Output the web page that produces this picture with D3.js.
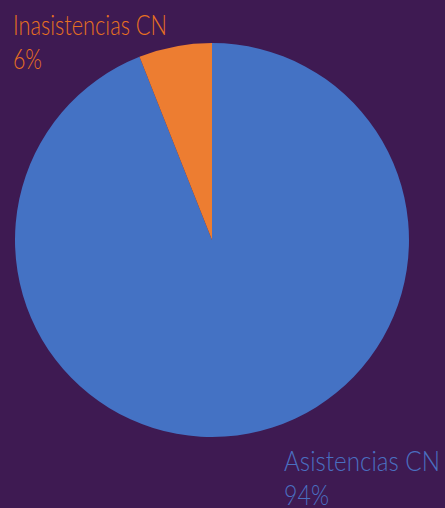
<!DOCTYPE html>
<html><head><meta charset="utf-8">
<script src="https://cdn.jsdelivr.net/npm/d3@7"></script>
<style>html,body{margin:0;padding:0;background:#3e1a52;}svg{display:block;}</style>
</head><body>
<script>
const categories = ["Asistencias CN", "Inasistencias CN"];
const values = [94, 6];
const pctLabels = ["94%", "6%"];
const colors = ["#4472C4", "#ED7D31"];
const textColors = ["#4a6fc0", "#e8711f"];

const W = 445, H = 508;
const svg = d3.select("body").append("svg").attr("width", W).attr("height", H);
svg.append("rect").attr("width", W).attr("height", H).attr("fill", "#3e1a52");

const cx = 212, cy = 240, r = 197;
const pie = d3.pie().sort(null).value(d => d.v);
const data = categories.map((c, i) => ({c, v: values[i], i}));
const arcs = pie(data);
const arc = d3.arc().innerRadius(0).outerRadius(r);
const g = svg.append("g").attr("transform", `translate(${cx},${cy})`);
g.selectAll("path").data(arcs).join("path")
  .attr("d", arc).attr("fill", d => colors[d.data.i]);

const labelPos = [{x: 284, y: 471, w1: 156, w2: 45}, {x: 13, y: 35, w1: 154, w2: 29}];
data.forEach((d, i) => {
  const p = labelPos[i];
  const t = svg.append("text")
    .attr("x", p.x).attr("y", p.y)
    .attr("fill", textColors[i])
    .attr("font-family", "Lato, 'Open Sans', sans-serif")
    .attr("font-weight", 300)
    .attr("font-size", 27);
  t.append("tspan").attr("x", p.x).attr("textLength", p.w1)
    .attr("lengthAdjust", "spacingAndGlyphs").text(d.c);
  t.append("tspan").attr("x", p.x).attr("dy", 34).attr("textLength", p.w2)
    .attr("lengthAdjust", "spacingAndGlyphs").text(pctLabels[i]);
});
</script>
</body></html>
